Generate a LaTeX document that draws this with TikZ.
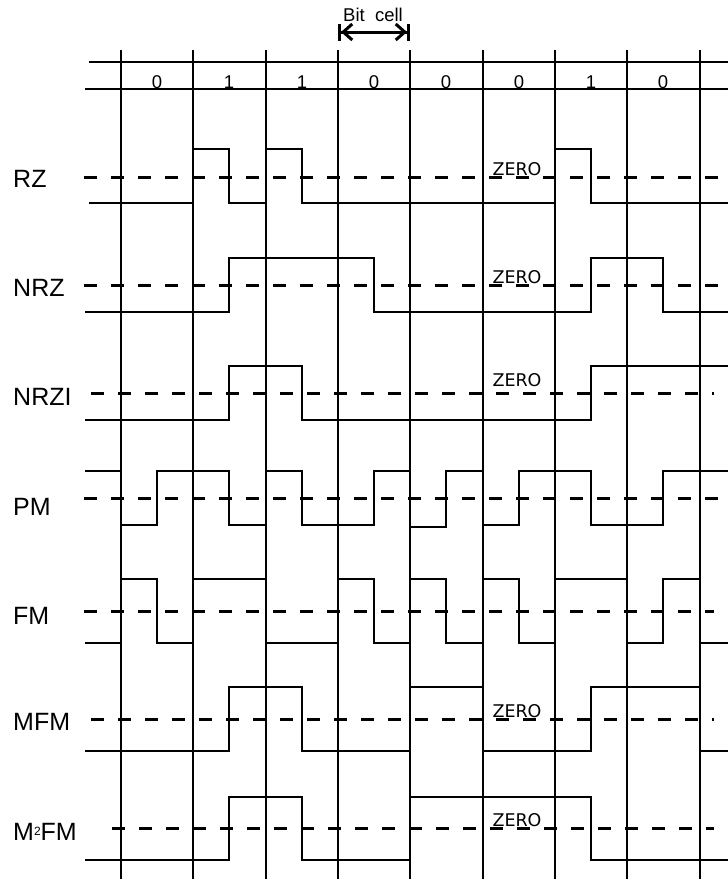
\documentclass[tikz,border=0pt]{standalone}
\usepackage{fontspec}
\setmainfont{Liberation Sans}
\newfontfamily\zerofont{DejaVu Sans}
\usepackage{tikz}
\usetikzlibrary{arrows.meta}
\tikzstyle{gridline}=[line width=2pt]
\tikzstyle{signal}=[line width=2.2pt]
\tikzstyle{zeroline}=[line width=3pt,dash pattern=on 13pt off 14pt]
\tikzstyle{code}=[anchor=west,inner sep=0pt,font=\fontsize{25}{25}\selectfont]
\tikzstyle{bit}=[anchor=base,inner sep=0pt,font=\fontsize{18.5}{18.5}\selectfont]
\tikzstyle{zero}=[anchor=base,inner sep=0pt,font=\zerofont\fontsize{17.5}{17.5}\selectfont]

\begin{document}
\begin{tikzpicture}[x=1pt,y=-1pt]
    \useasboundingbox (0,0) rectangle (728,879);

    % bit cell marker
    \node[bit] (bitcell) at (373,21) {Bit\ \ cell};
    \coordinate (cellL) at (338,32);
    \coordinate (cellR) at (410,32);
    \draw[line width=3pt,{Bar[width=17pt]Straight Barb[length=9pt,width=16pt]}-{Straight Barb[length=9pt,width=16pt]Bar[width=17pt]}] (cellL) -- (cellR);

    % data row
    \draw[line width=2.5pt] (89,62) -- (728,62);
    \draw[line width=2.5pt] (85,89) -- (728,89);
    \node[bit] (d0) at (157,88) {0};
    \node[bit] (d1) at (229,88) {1};
    \node[bit] (d2) at (302,88) {1};
    \node[bit] (d3) at (374,88) {0};
    \node[bit] (d4) at (446,88) {0};
    \node[bit] (d5) at (519,88) {0};
    \node[bit] (d6) at (591,88) {1};
    \node[bit] (d7) at (663,88) {0};

    % cell boundaries
    \draw[gridline] (121,50) -- (121,879);
    \draw[gridline] (193,50) -- (193,879);
    \draw[gridline] (266,50) -- (266,879);
    \draw[gridline] (338,50) -- (338,879);
    \draw[gridline] (410,50) -- (410,879);
    \draw[gridline] (483,50) -- (483,879);
    \draw[gridline] (555,50) -- (555,879);
    \draw[gridline] (627,50) -- (627,879);
    \draw[gridline] (700,50) -- (700,879);

    % RZ
    \node[code] (rz) at (13,179) {RZ};
    \draw[zeroline] (84,177) -- (728,177);
    \node[zero] (zrz) at (517,175) {ZERO};
    \draw[signal] (89,203) -| (193,149) -| (229,203) -| (266,149) -| (302,203)
        -| (555,149) -| (591,203) -- (728,203);

    % NRZ
    \node[code] (nrz) at (13,288) {NRZ};
    \draw[zeroline] (84,285) -- (728,285);
    \node[zero] (znrz) at (517,283) {ZERO};
    \draw[signal] (85,312) -| (229,258) -| (374,312) -| (591,258) -| (663,312) -- (728,312);

    % NRZI
    \node[code] (nrzi) at (13,397) {NRZI};
    \draw[zeroline] (91,393) -- (714,393);
    \node[zero] (znrzi) at (517,386) {ZERO};
    \draw[signal] (85,420) -| (229,366) -| (302,420) -| (591,366) -- (728,366);

    % PM
    \node[code] (pm) at (13,507) {PM};
    \draw[zeroline] (84,498) -- (728,498);
    \draw[signal] (85,471) -| (121,525) -| (157,471) -| (229,525) -| (266,471)
        -| (302,525) -| (374,471) -| (410,527) -| (446,471) -| (483,525)
        -| (519,471) -| (591,525) -| (663,471) -- (728,471);

    % FM
    \node[code] (fm) at (13,616) {FM};
    \draw[zeroline] (84,611) -- (714,611);
    \draw[signal] (85,643) -| (121,579) -| (157,643) -| (193,579) -| (266,643)
        -| (338,579) -| (374,643) -| (410,579) -| (446,643) -| (483,579)
        -| (519,643) -| (555,579) -| (627,643) -| (663,579) -| (700,643) -- (728,643);

    % MFM
    \node[code] (mfm) at (13,722) {MFM};
    \draw[zeroline] (91,719) -- (714,719);
    \node[zero] (zmfm) at (517,717) {ZERO};
    \draw[signal] (85,751) -| (229,687) -| (302,751) -| (410,687) -| (483,751)
        -| (591,687) -| (700,751) -- (728,751);

    % M2FM
    \node[code] (mmfm) at (13,832) {M\raisebox{5pt}{\fontsize{12}{12}\selectfont 2}FM};
    \draw[zeroline] (112,828) -- (714,828);
    \node[zero] (zmmfm) at (517,826) {ZERO};
    \draw[signal] (85,860) -| (229,797) -| (302,860) -| (410,797) -| (591,860) -- (728,860);
\end{tikzpicture}
\end{document}
